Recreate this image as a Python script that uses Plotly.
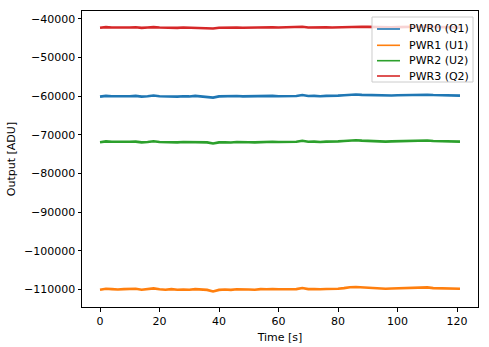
import plotly.graph_objects as go

time_s = [0, 2, 4, 6, 8, 10, 12, 14, 16, 18, 20, 22, 24, 26, 28, 30, 32, 34, 36, 38,
          40, 42, 44, 46, 48, 50, 52, 54, 56, 58, 60, 62, 64, 66, 68, 70, 72, 74, 76, 78,
          80, 82, 84, 86, 88, 90, 92, 94, 96, 98, 100, 102, 104, 106, 108, 110, 112, 114, 116, 118,
          120, 121]

pwr0 = [-60100, -59900, -60000, -60050, -59950, -60000, -59900, -60100, -60000, -59800,
        -60000, -60050, -59950, -60100, -60000, -60050, -59900, -60000, -60100, -60350,
        -60050, -60000, -60100, -59950, -60050, -60000, -60100, -59950, -60000, -59900,
        -60000, -59950, -59900, -59950, -59700, -59950, -59900, -60000, -59900, -59950,
        -59850, -59750, -59600, -59550, -59650, -59700, -59750, -59800, -59850, -59800,
        -59750, -59700, -59650, -59750, -59700, -59600, -59700, -59750, -59800, -59750,
        -59800, -59850]

pwr1 = [-110100, -109850, -109950, -110050, -109950, -109950, -109850, -110100, -110000, -109750,
        -110000, -110100, -109950, -110100, -110050, -110100, -109950, -110000, -110150, -110550,
        -110150, -110050, -110150, -110000, -110100, -110050, -110100, -109950, -110000, -109900,
        -110000, -109950, -109900, -109950, -109650, -109950, -109900, -110000, -109900, -109950,
        -109850, -109700, -109450, -109400, -109500, -109650, -109750, -109800, -109850, -109800,
        -109750, -109650, -109600, -109700, -109650, -109500, -109700, -109750, -109800, -109750,
        -109800, -109850]

pwr2 = [-71900, -71700, -71800, -71850, -71750, -71800, -71750, -71950, -71850, -71650,
        -71850, -71900, -71800, -71950, -71850, -71900, -71800, -71850, -71950, -72250,
        -71950, -71900, -72000, -71850, -71950, -71900, -71950, -71850, -71850, -71800,
        -71850, -71800, -71750, -71800, -71550, -71800, -71750, -71850, -71750, -71800,
        -71700, -71600, -71450, -71400, -71500, -71600, -71650, -71700, -71750, -71700,
        -71650, -71600, -71550, -71650, -71600, -71450, -71600, -71650, -71700, -71650,
        -71700, -71750]

pwr3 = [-42250, -42100, -42200, -42250, -42150, -42200, -42150, -42300, -42200, -42100,
        -42200, -42250, -42200, -42300, -42200, -42250, -42200, -42200, -42250, -42450,
        -42250, -42200, -42300, -42200, -42250, -42200, -42250, -42200, -42200, -42150,
        -42200, -42150, -42150, -42200, -42000, -42200, -42150, -42200, -42150, -42200,
        -42150, -42050, -41950, -41900, -42000, -42050, -42100, -42150, -42150, -42150,
        -42100, -42050, -42050, -42100, -42050, -41950, -42050, -42100, -42150, -42100,
        -42150, -42200]

series_names = ["PWR0 (Q1)", "PWR1 (U1)", "PWR2 (U2)", "PWR3 (Q2)"]
series_values = [pwr0, pwr1, pwr2, pwr3]
colors = ["#1f77b4", "#ff7f0e", "#2ca02c", "#d62728"]

y_tickvals = [-40000, -50000, -60000, -70000, -80000, -90000, -100000, -110000]
y_ticktext = ["\u221240000", "\u221250000", "\u221260000", "\u221270000", "\u221280000",
              "\u221290000", "\u2212100000", "\u2212110000"]
x_tickvals = [0, 20, 40, 60, 80, 100, 120]

fig = go.Figure()
for name, vals, c in zip(series_names, series_values, colors):
    fig.add_trace(go.Scatter(x=time_s, y=vals, mode="lines", name=name, showlegend=False,
                             line=dict(color=c, width=2.6)))

font = dict(family="DejaVu Sans", size=11, color="black")

# legend drawn in paper coordinates (matplotlib-like compact legend)
fig.add_shape(type="rect", xref="paper", yref="paper", x0=0.7323, x1=0.9874,
              y0=0.7601, y1=0.9797, line=dict(color="#cccccc", width=1),
              fillcolor="rgba(255,255,255,0.8)", layer="above")
entry_y = [0.9392, 0.8841, 0.8321, 0.7804]
for name, c, yy in zip(series_names, colors, entry_y):
    fig.add_shape(type="line", xref="paper", yref="paper", x0=0.745, x1=0.803,
                  y0=yy, y1=yy, line=dict(color=c, width=1.6), layer="above")
    fig.add_annotation(xref="paper", yref="paper", x=0.821, y=yy, text=name,
                       showarrow=False, xanchor="left", yanchor="middle", font=font)

fig.update_layout(
    width=489, height=347,
    margin=dict(l=82, r=11, t=11, b=40),
    paper_bgcolor="white", plot_bgcolor="white",
    font=font,
    showlegend=False,
)
fig.update_xaxes(range=[-6.05, 127.05], tickvals=x_tickvals, ticks="outside", ticklen=3.5,
                 tickwidth=0.8, tickcolor="black", showline=True, linecolor="black",
                 linewidth=1, mirror=True, showgrid=False, zeroline=False, automargin=False,
                 title=dict(text="Time [s]", font=font, standoff=6))
fig.update_yaxes(range=[-114580, -37930], tickvals=y_tickvals, ticktext=y_ticktext,
                 ticks="outside", ticklen=3.5, tickwidth=0.8, tickcolor="black",
                 showline=True, linecolor="black", linewidth=1, mirror=True,
                 showgrid=False, zeroline=False, automargin=False,
                 title=dict(text="Output [ADU]", font=font, standoff=6))

fig.write_html("out.html")
